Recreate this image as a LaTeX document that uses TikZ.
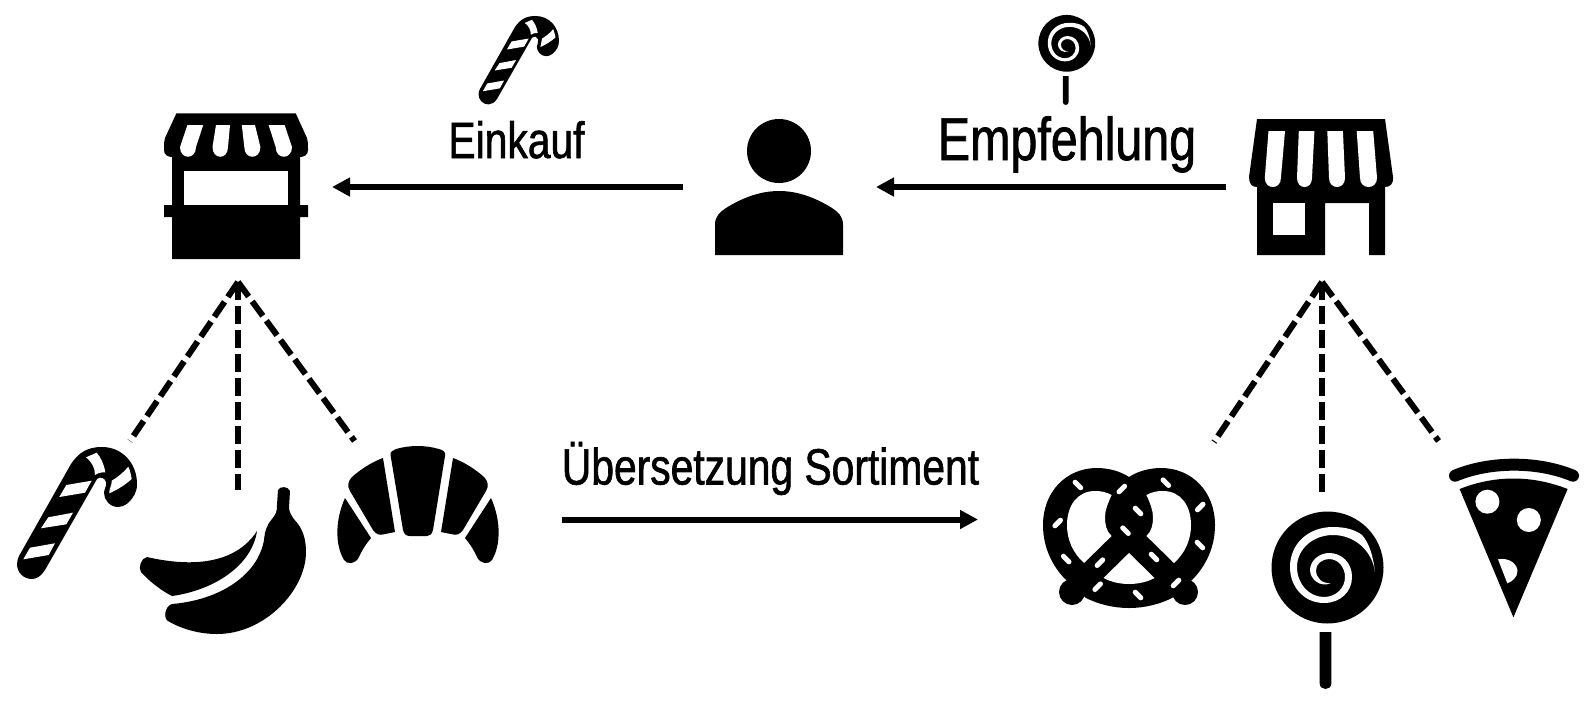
\documentclass[tikz,border=0pt]{standalone}
\usepackage{fontspec}
\setmainfont[FakeStretch=.8,FakeBold=1.2]{Liberation Sans}
\usetikzlibrary{arrows.meta}

\tikzset{
candy/.pic={
\fill (19,556) -- (71,464) .. controls (79,452) and (88,447) .. (102,447) .. controls (122,447) and (137,463) .. (137,484) .. controls (137,492) and (134,497) .. (128,503) .. controls (124,506) and (121,507) .. (118,507) .. controls (110,507) and (104,500) .. (104,493) .. controls (104,489) and (107,486) .. (106,482) .. controls (105,478) and (100,476) .. (97,479) -- (45,570) .. controls (41,576) and (37,579) .. (32,579) .. controls (23,579) and (17,572) .. (17,564) .. controls (17,561) and (18,558) .. (19,556) -- cycle;
\fill[white] (23.3,559.3) -- (30,547.7) -- (55,543.3) -- (48.7,555) -- cycle;
\fill[white] (41,528.3) -- (48.3,517.3) -- (73,512.7) -- (66.3,524.3) -- cycle;
\fill[white] (59.3,497) -- (66.3,485) -- (91.7,480.7) -- (85,492.7) -- cycle;
\fill[white] (86,457.3) -- (96.7,452.7) .. controls (101,458) and (104,464) .. (105.3,472.3) .. controls (102,472) and (98,473) .. (95,475) .. controls (95,468) and (92,462) .. (86,457.3) -- cycle;
\fill[white] (111.7,480.7) .. controls (118,477) and (124,472) .. (128.3,466.7) .. controls (130,470) and (131,475) .. (131.7,479) .. controls (125,485) and (117,490) .. (109.3,493.3) .. controls (109,488) and (112,486) .. (111.7,480.7) -- cycle;
},
lolly/.pic={
\fill (1327.5,567.5) circle (56);
\fill (1319.6,632) -- (1331.4,632) -- (1331.4,683) .. controls (1331.4,691) and (1319.6,691) .. (1319.6,683) -- cycle;
\fill[white] (1375,572) .. controls (1373,555) and (1369,543) .. (1362,535) .. controls (1354,529) and (1344,527) .. (1333,527) .. controls (1308,527) and (1290,544) .. (1290,567) .. controls (1290,588) and (1305,603) .. (1324,603) .. controls (1340,603) and (1352,592) .. (1352,577) .. controls (1352,563) and (1342,553) .. (1329,553) .. controls (1319,553) and (1310,561) .. (1310,570) .. controls (1310,579) and (1320,588) .. (1331,583) .. controls (1322,584) and (1316,578) .. (1316,570) .. controls (1316,564) and (1322,559) .. (1329,559) .. controls (1338,559) and (1345,567) .. (1345,577) .. controls (1345,588) and (1336,597) .. (1324,597) .. controls (1309,597) and (1297,584) .. (1297,567) .. controls (1297,549) and (1313,535) .. (1333,535) .. controls (1354,535) and (1372,550) .. (1375,572) -- cycle;
},
banana/.pic={
\fill (147,557) .. controls (190,567) and (235,565) .. (257,531) .. controls (252,565) and (215,590) .. (172,596) .. controls (160,590) and (148,580) .. (141,572) .. controls (138,568) and (141,558) .. (147,557) -- cycle;
\fill (278,490) .. controls (280,486) and (288,486) .. (290,491) -- (289,508) .. controls (290,516) and (295,520) .. (298,524) .. controls (304,532) and (306,542) .. (306,552) .. controls (306,590) and (265,634) .. (217,634) .. controls (197,634) and (180,628) .. (168,621) .. controls (163,618) and (165,606) .. (172,604) .. controls (220,600) and (258,575) .. (264,540) .. controls (265,530) and (267,525) .. (272,519) .. controls (276,514) and (277,512) .. (277,505) -- cycle;
},
croiss/.pic={
\fill (390.5,455) .. controls (390,452) and (393,450) .. (396,449) .. controls (410,445) and (425,445) .. (439,449) .. controls (443,450) and (446,452) .. (445,456) -- (433,530) .. controls (432,534) and (430,536) .. (427,536) -- (410,536) .. controls (406,536) and (404,534) .. (403,530) -- cycle;
\fill (383,458) -- (395,532) -- (385,534) .. controls (379,536) and (376,534) .. (373,530) -- (350,491) .. controls (347,486) and (348,481) .. (352,477) .. controls (361,469) and (372,462) .. (383,458) -- cycle;
\fill (453,458) -- (441,532) -- (451,534) .. controls (457,536) and (460,534) .. (463,530) -- (486,491) .. controls (489,486) and (488,481) .. (484,477) .. controls (475,469) and (464,462) .. (453,458) -- cycle;
\fill (345,498) -- (371,538) .. controls (366,544) and (362,550) .. (359,557) .. controls (356,564) and (347,565) .. (344,560) .. controls (335,545) and (335,520) .. (345,498) -- cycle;
\fill (491,498) -- (465,538) .. controls (470,544) and (474,550) .. (477,557) .. controls (480,564) and (489,565) .. (492,560) .. controls (501,545) and (501,520) .. (491,498) -- cycle;
},
pretz/.pic={
\fill (1129,477) .. controls (1120,471) and (1108,468) .. (1097,468) .. controls (1066,468) and (1043,492) .. (1043,525) .. controls (1043,547) and (1052,566) .. (1066,580) -- (1086,598) .. controls (1098,604) and (1113,608) .. (1129,608) .. controls (1145,608) and (1160,604) .. (1172,598) -- (1192,580) .. controls (1206,566) and (1215,547) .. (1215,525) .. controls (1215,492) and (1192,468) .. (1161,468) .. controls (1150,468) and (1138,471) .. (1129,477) -- cycle;
\fill (1072,592) circle (13);
\fill (1185,592) circle (13);
\fill[white] (1111.6,495) .. controls (1106,492) and (1101,491) .. (1095,491) .. controls (1077,491) and (1067,506) .. (1067,525) .. controls (1067,540) and (1073,553) .. (1084,563) -- (1111.6,536) .. controls (1106,531) and (1105,524) .. (1105,517) .. controls (1105,510) and (1108,503) .. (1111.6,495) -- cycle;
\fill[white] (1146.4,495) .. controls (1152,492) and (1157,491) .. (1163,491) .. controls (1181,491) and (1191,506) .. (1191,525) .. controls (1191,540) and (1185,553) .. (1174,563) -- (1146.4,536) .. controls (1152,531) and (1153,524) .. (1153,517) .. controls (1153,510) and (1150,503) .. (1146.4,495) -- cycle;
\fill[white] (1129,553) -- (1103.5,578) .. controls (1111,582) and (1120,584) .. (1129,584) .. controls (1138,584) and (1147,582) .. (1154.5,578) -- cycle;
\foreach \x/\y/\s in {1077.9/485/1, 1121.8/489/-1, 1165.8/482.7/1, 1138/511/1, 1200.2/507/-1, 1057.7/523/-1, 1125.5/530.7/1, 1199.9/545/1, 1066.2/559/1, 1099.9/562.7/-1, 1154/557/1, 1097.7/586.7/-1, 1138/595/1, 1176/583/-1}
  \draw[white, line width=5pt, line cap=round] ({\x-2.8},{\y-2.8*\s}) -- ({\x+2.8},{\y+2.8*\s});
},
pizza/.pic={
\draw[line width=12pt, line cap=round] (1455,475.7) .. controls (1490,461) and (1538,461) .. (1573,475.7);
\fill (1459.6,489) .. controls (1495,475) and (1532,475) .. (1567.6,489) -- (1513.4,617.3) -- cycle;
\fill[white] (1487.4,501.7) circle (12);
\fill[white] (1528.8,520) circle (12);
\fill[white] (1498,559.3) .. controls (1510,557) and (1518,565) .. (1517.4,571.7) .. controls (1517,577) and (1513,581) .. (1507.3,583.3) -- cycle;
},
person/.pic={
\fill (779,151) circle (32);
\fill (715,255) -- (715,225) .. controls (715,216) and (720,212) .. (726,208) .. controls (742,198) and (760,191) .. (779,191) .. controls (798,191) and (816,198) .. (832,208) .. controls (838,212) and (843,216) .. (843,225) -- (843,255) -- cycle;
},
stallicon/.pic={
\fill (176.4,113.3) -- (295.7,113.3) -- (307,138) .. controls (308,141) and (308,143) .. (308,150) .. controls (308,155) and (304,157) .. (300,157) -- (300,205) -- (308,205) -- (308,217) -- (300,217) -- (300,259) -- (172,259) -- (172,217) -- (164,217) -- (164,205) -- (172,205) -- (172,157) .. controls (168,157) and (164,155) .. (164,150) .. controls (164,143) and (164,141) .. (165,138) -- cycle;
\fill[white] (183.6,171) rectangle (287.9,205);
\foreach \a/\b/\c/\d in {187.5/203.2/180/196, 216/230/212.5/228, 241.8/255/244.3/260.4, 268.6/284.6/275.7/292}
  \fill[white] (\a,125) -- (\b,125) -- (\d,147) .. controls (\d,160) and (\c,160) .. (\c,147) -- cycle;
},
shopicon/.pic={
\fill (1257,119) -- (1385,119) -- (1393,177) .. controls (1393.5,184) and (1390,187) .. (1385,187) -- (1385,255) -- (1369,255) -- (1369,203) -- (1325,203) -- (1325,255) -- (1257,255) -- (1257,187) .. controls (1252,187) and (1249,184) .. (1249,177) -- cycle;
\fill[white] (1273,203) rectangle (1304.7,235);
\foreach \a/\b/\c/\d in {1268.5/1285/1264.8/1280.9, 1298.8/1314.4/1297/1312, 1327.3/1342.9/1329/1345, 1356.7/1373.2/1360/1377}
  \fill[white] (\a,131) -- (\b,131) -- (\d,178) .. controls (\d,190) and (\c,190) .. (\c,178) -- cycle;
}
}

\begin{document}
\begin{tikzpicture}[x=1pt, y=-1pt]

\tikzstyle{icon} = [inner sep=0, outer sep=0]
\tikzstyle{arrow} = [-{Triangle[length=18pt, width=18pt]}, line width=6pt]
\tikzstyle{dashline} = [line width=6pt, dash pattern=on 18pt off 6pt]

\useasboundingbox (0,0) rectangle (1594,712);

\node[icon, minimum width=140pt, minimum height=190pt] (stall) at (238,187) {};
\node[icon, minimum width=128pt, minimum height=136pt] (user) at (779,187) {};
\node[icon, minimum width=142pt, minimum height=190pt] (shop) at (1322,187) {};

\node[icon, minimum width=104pt, minimum height=128pt] (cane) at (78,505) {};
\node[icon, minimum width=150pt, minimum height=144pt] (fruit) at (238,562) {};
\node[icon, minimum width=160pt, minimum height=157pt] (croissant) at (418,519.5) {};
\node[icon, minimum width=174pt, minimum height=155pt] (pretzel) at (1129,519.5) {};
\node[icon, minimum width=112pt, minimum height=196pt] (lollipop) at (1322,590) {};
\node[icon, minimum width=143pt, minimum height=178pt] (slice) at (1510,530) {};

\node[anchor=base] (einkauf) at (516.5,158) {\fontsize{51}{51}\selectfont Einkauf};
\node[anchor=base] (empfehlung) at (1067,160) {\fontsize{60.5}{60.5}\selectfont Empfehlung};
\node[anchor=base] (sortiment) at (770.5,484.5) {\fontsize{51}{51}\selectfont Übersetzung Sortiment};

\pic {stallicon};
\pic {person};
\pic {shopicon};
\pic {candy};
\pic {banana};
\pic {croiss};
\pic {pretz};
\pic {lolly};
\pic {pizza};
\pic[shift={(467.2,-283.5)}, scale=.67] {candy};
\pic[shift={(393.7,-244.4)}, scale=.507] {lolly};

\draw[arrow, shorten <=32pt, shorten >=24pt] (user.west) -- (stall.east);
\draw[arrow, shorten <=25pt, shorten >=33pt] (shop.west) -- (user.east);
\draw[arrow, shorten <=64pt, shorten >=64pt] (croissant.east) -- (pretzel.west);

\draw[dashline] (stall.south) -- (cane.north east);
\draw[dashline] (stall.south) -- (fruit.north);
\draw[dashline] (stall.south) -- ([xshift=16.5pt]croissant.north west);
\draw[dashline] (shop.south) -- ([xshift=-2pt]pretzel.north east);
\draw[dashline] (shop.south) -- (lollipop.north);
\draw[dashline] (shop.south) -- (slice.north west);
\end{tikzpicture}
\end{document}
